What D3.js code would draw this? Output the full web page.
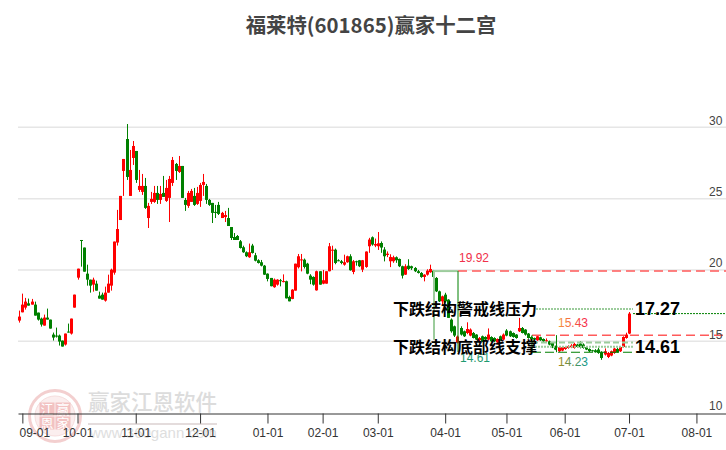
<!DOCTYPE html>
<html>
<head>
<meta charset="utf-8">
<script src="https://cdn.jsdelivr.net/npm/d3@7/dist/d3.min.js"></script>
<style>
    html, body { margin: 0; padding: 0; background: #fff; }
    svg { display: block; }
</style>
</head>
<body>
<div id="chart"></div>
<script>
// daily candles
var opens = [16.45,17.03,17.36,17.66,17.57,17.57,17.01,16.59,16.10,16.66,16.52,15.47,15.40,15.40,15.05,14.77,15.68,15.54,17.36,19.46,22.10,21.57,19.74,19.32,18.97,19.04,18.20,18.27,17.85,18.41,18.90,19.81,21.92,23.50,26.94,29.18,25.19,27.85,28.34,25.61,25.47,25.89,23.64,24.77,24.77,25.40,24.91,25.40,24.84,25.05,26.10,27.43,26.87,27.29,24.91,24.49,24.77,25.19,24.63,24.84,25.96,25.89,24.91,24.70,24.07,24.56,23.64,23.71,23.64,23.01,22.31,22.38,
    22.01,21.59,21.24,20.89,21.71,21.03,20.68,20.54,20.30,19.74,19.44,18.79,18.97,19.28,19.18,19.21,18.11,17.97,18.55,20.19,20.70,20.72,20.44,19.60,19.51,18.57,19.91,19.04,19.04,19.91,21.38,21.42,20.68,20.61,20.37,20.54,20.96,19.86,20.61,20.68,20.02,20.21,21.66,22.29,21.71,21.66,21.89,21.43,21.05,20.61,20.61,20.89,20.77,20.26,19.67,20.30,20.26,20.14,19.91,19.79,19.51,19.67,19.84,19.95,
    19.44,18.50,17.80,18.27,17.92,16.52,16.05,14.90,15.93,15.70,15.58,15.40,15.58,15.47,15.07,15.35,15.30,15.12,15.30,15.23,14.93,15.35,15.12,15.75,15.70,15.58,15.47,15.70,15.93,15.82,15.54,15.30,15.23,15.07,15.28,15.16,15.02,15.00,14.88,14.65,14.30,14.35,14.46,14.53,14.58,14.53,14.77,14.84,14.77,14.58,14.46,14.37,14.37,14.42,14.23,14.07,13.90,14.00,14.18,14.46,14.30,14.60,15.23,15.54];
var highs = [17.15,18.34,18.04,17.99,17.97,17.78,17.01,16.66,16.87,17.29,16.52,15.61,15.96,15.47,15.05,15.54,16.24,16.59,18.27,20.09,22.10,21.57,20.37,19.32,19.46,19.25,18.48,18.41,18.83,19.67,20.09,21.99,24.21,25.19,27.78,30.23,28.41,29.04,28.34,27.01,26.73,26.45,24.70,25.47,25.89,25.89,25.89,26.59,26.31,26.59,27.92,27.50,27.99,27.29,25.05,25.54,25.68,25.75,25.82,26.10,26.73,26.03,24.98,24.70,24.56,24.77,24.07,24.14,24.35,23.01,22.59,22.45,
    22.10,21.70,21.30,21.85,21.83,21.20,20.75,20.70,20.35,19.76,19.44,19.40,19.35,19.37,19.69,19.25,18.20,18.65,20.44,21.12,21.12,20.80,20.50,19.70,19.55,19.95,19.91,20.00,19.91,21.89,21.70,21.50,20.75,20.70,21.07,21.00,21.10,20.70,20.65,20.70,20.70,21.30,22.25,22.35,22.20,22.66,22.00,21.60,21.30,21.10,21.00,20.95,20.80,20.30,20.40,20.75,20.30,20.20,20.00,19.85,19.70,20.05,20.37,20.00,
    19.50,18.55,18.20,18.40,17.95,16.60,16.10,15.40,16.05,15.75,16.33,15.90,15.65,15.50,15.30,15.40,15.35,15.90,15.35,15.28,15.20,15.40,15.55,15.85,15.75,15.62,15.50,16.64,16.00,15.85,15.58,15.35,15.26,15.40,15.32,15.20,15.20,15.05,14.95,14.70,14.65,14.65,14.65,14.72,14.80,14.90,14.82,15.00,14.85,14.65,14.50,14.40,14.45,14.55,14.30,14.50,14.25,14.35,14.55,14.55,14.65,15.35,15.60,17.05];
var lows = [16.31,17.03,17.22,17.50,17.57,16.80,16.45,16.03,16.10,16.52,15.89,15.05,15.26,14.70,14.63,14.70,15.61,15.47,17.36,19.32,20.23,19.88,18.90,18.41,18.48,18.55,17.99,17.92,17.78,18.41,18.55,19.67,21.71,23.50,25.19,26.31,25.19,27.36,26.10,25.47,25.26,24.28,22.94,24.63,24.70,24.63,24.63,25.12,24.77,23.36,25.89,26.31,26.80,25.05,24.14,24.35,24.77,24.49,24.56,24.42,25.19,24.63,24.49,23.29,23.64,23.85,23.64,23.36,23.08,22.10,22.10,22.10,
    21.50,21.20,20.90,20.85,21.15,20.60,20.45,20.25,19.65,19.20,18.85,18.75,18.90,18.85,19.13,18.00,17.80,17.95,18.55,20.10,19.90,20.10,19.70,19.00,18.90,18.55,18.97,19.00,19.04,19.90,20.00,20.40,20.61,20.40,20.30,20.50,19.95,19.70,20.30,20.20,19.85,20.15,21.20,21.70,21.60,21.40,21.20,20.60,20.90,20.20,20.50,20.50,20.20,19.40,19.65,20.00,20.00,19.85,19.75,19.45,19.20,19.60,19.80,19.40,
    18.45,17.75,17.50,17.70,16.64,15.60,15.30,14.85,15.40,15.30,15.50,15.35,15.20,15.10,15.00,14.95,15.05,15.05,14.95,14.95,14.85,15.05,15.05,15.35,15.30,15.25,15.18,15.65,15.55,15.40,15.18,15.12,15.08,15.03,15.03,14.95,14.95,14.72,14.52,14.38,14.25,14.30,14.40,14.48,14.52,14.48,14.55,14.50,14.48,14.38,14.25,14.27,14.20,14.12,13.70,14.00,13.82,13.95,14.12,14.20,14.25,14.55,15.18,15.50];
var closes = [16.73,17.57,17.78,17.50,17.78,16.80,16.52,16.17,16.66,16.52,15.89,15.26,15.33,14.98,14.63,15.54,15.61,16.59,18.27,20.09,22.05,19.88,19.32,18.90,19.32,18.55,17.99,17.92,18.41,19.04,20.02,21.99,22.87,25.19,27.78,26.52,27.01,28.69,26.31,25.89,25.89,24.35,24.49,24.98,25.40,24.91,25.33,25.12,25.75,26.38,27.71,26.94,27.29,25.05,24.56,25.40,25.54,24.56,25.40,25.96,26.17,24.91,24.56,24.00,24.00,23.93,24.00,23.85,23.08,22.24,22.10,22.10,
    21.54,21.24,20.96,21.24,21.19,20.65,20.49,20.30,19.67,19.37,18.86,19.32,19.32,19.23,19.22,18.01,17.80,18.62,20.44,20.96,20.74,20.21,19.74,19.32,18.97,19.91,18.97,19.28,19.91,21.66,21.42,20.49,20.61,20.49,20.54,20.96,19.98,20.61,20.54,20.26,20.68,21.29,22.13,21.78,21.82,21.87,21.57,20.96,21.14,20.91,20.89,20.68,20.26,19.60,20.26,20.07,20.12,19.91,19.79,19.51,19.67,19.95,20.07,19.51,
    18.50,17.80,18.15,17.80,16.64,15.70,15.40,15.33,15.47,15.35,15.86,15.82,15.23,15.12,15.23,15.00,15.12,15.47,15.00,15.00,15.16,15.07,15.47,15.40,15.35,15.30,15.23,15.93,15.58,15.47,15.23,15.16,15.12,15.35,15.07,15.00,15.07,14.77,14.58,14.42,14.58,14.58,14.60,14.65,14.70,14.81,14.60,14.58,14.53,14.42,14.30,14.30,14.23,14.18,13.83,14.30,14.18,14.30,14.49,14.23,14.60,15.30,15.47,16.94];

// month marks sit on trading day positions
var monthLabels = ["09-01","10-01","11-01","12-01","01-01","02-01","03-01","04-01","05-01","06-01","07-01","08-01"];
var monthDays = [1,19,38,59,81,99,117,139,159,178,199,221];
var priceTicks = [10,15,20,25,30];

var w = 726, h = 450;

var svg = d3.select("#chart").append("svg").attr("width", w).attr("height", h);

var x = d3.scaleLinear().domain([-0.42, 230.65]).range([18, 726]);
var y = d3.scaleLinear().domain([10, 30]).range([412.6, 127.3]);

var latin = "'Liberation Sans', Arial, sans-serif";
var cjk = "'Noto Sans CJK SC', sans-serif";

//title
svg.append("text")
    .text("福莱特(601865)赢家十二宫")
    .attr("x", 371)
    .attr("y", 33)
    .attr("text-anchor", "middle")
    .style("font-family", cjk)
    .style("font-weight", "bold")
    .style("font-size", "20.4px")
    .style("fill", "#444");

//grid lines, 10 is covered by the axis
svg.append("g").selectAll("line")
    .data(priceTicks.slice(1))
    .enter().append("line")
    .attr("x1", 18)
    .attr("x2", w)
    .attr("y1", function (d) { return y(d); })
    .attr("y2", function (d) { return y(d); })
    .style("stroke", "#e6e6e6")
    .style("stroke-width", 1.5);

//watermark goes under everything else
var mark = svg.append("g");
mark.append("circle").attr("cx", 55).attr("cy", 416).attr("r", 25.5)
    .style("fill", "none").style("stroke", "#f3cfcf").style("stroke-width", 3);
mark.append("circle").attr("cx", 55).attr("cy", 416).attr("r", 20)
    .style("fill", "#fbeeee").style("stroke", "#f6dddd").style("stroke-width", 1);
[["江", 47, 409], ["赢", 63, 409], ["恩", 47, 423], ["家", 63, 423]].forEach(function (c) {
    mark.append("rect").attr("x", c[1] - 7.5).attr("y", c[2] - 6.5).attr("width", 15).attr("height", 13)
        .style("fill", "#f2c2c2");
    mark.append("text").text(c[0]).attr("x", c[1]).attr("y", c[2] + 4.5)
        .attr("text-anchor", "middle")
        .style("font-family", cjk).style("font-size", "13px").style("fill", "#fff");
});
mark.append("text").text("赢家江恩软件")
    .attr("x", 88).attr("y", 410)
    .style("font-family", cjk).style("font-size", "21.5px").style("font-weight", "500")
    .style("fill", "#dcdcdc");
mark.append("line").attr("x1", 88).attr("x2", 217).attr("y1", 424).attr("y2", 424)
    .style("stroke", "#e4dcdc").style("stroke-width", 2);
mark.append("text").text("www.360gann.com")
    .attr("x", 90).attr("y", 438)
    .style("font-family", latin).style("font-size", "15px").style("fill", "#dedede");

//x axis
var xAxis = d3.axisBottom(x)
    .tickValues(monthDays)
    .tickSize(10)
    .tickSizeOuter(0)
    .tickFormat(function (d, i) { return monthLabels[i]; });

var axisG = svg.append("g")
    .attr("transform", "translate(0,413.5)")
    .call(xAxis);
axisG.select(".domain").style("stroke", "#333").style("stroke-width", 1);
axisG.selectAll(".tick line").style("stroke", "#333");
axisG.selectAll(".tick text")
    .attr("y", 15)
    .style("font-family", latin)
    .style("font-size", "12px")
    .style("fill", "#333")
    .attr("dx", function (d, i) { return i == 0 ? 12 : 0; });

//candles, snapped to whole pixels so the bodies stay solid
var candles = svg.append("g").selectAll("g")
    .data(closes.map(function (c, i) {
        return { i: i, o: opens[i], h: highs[i], l: lows[i], c: c };
    }))
    .enter().append("g")
    .style("fill", function (d) { return d.c >= d.o ? "#ff0000" : "#008000"; })
    .style("stroke", function (d) { return d.c >= d.o ? "#ff0000" : "#008000"; });

candles.append("line")
    .attr("x1", function (d) { return Math.round(x(d.i)) + 0.5; })
    .attr("x2", function (d) { return Math.round(x(d.i)) + 0.5; })
    .attr("y1", function (d) { return y(d.h); })
    .attr("y2", function (d) { return y(d.l); })
    .style("stroke-width", 1);

candles.append("rect")
    .attr("x", function (d) { return Math.round(x(d.i)) - 1; })
    .attr("width", 3)
    .attr("y", function (d) { return y(Math.max(d.o, d.c)); })
    .attr("height", function (d) { return Math.max(1, Math.abs(y(d.o) - y(d.c))); })
    .style("stroke", "none");

//level lines
var RED_DASH = "#ff5a5a", PALE = "#9ccc9c", DARK = "#008000";
function level(v, x1, x2, color, width, dash) {
    svg.append("line")
        .attr("x1", x1).attr("x2", x2)
        .attr("y1", y(v)).attr("y2", y(v))
        .style("stroke", color).style("stroke-width", width)
        .style("stroke-dasharray", dash);
}
function wall(px, v1, v2, color, width) {
    svg.append("line")
        .attr("x1", px).attr("x2", px)
        .attr("y1", y(v1)).attr("y2", y(v2))
        .style("stroke", color).style("stroke-width", width);
}

level(19.92, 458, w, RED_DASH, 1.5, "9,5");
level(15.43, 532, w, RED_DASH, 1.5, "9,5");
level(17.27, 536, 633, PALE, 2, "2,1");
level(16.94, 633, w, DARK, 1, "2,1");
level(14.92, 532, 633, PALE, 2, "6,3");
level(14.61, 532, 633, PALE, 2, "2,1");
level(14.23, 532, 633, DARK, 1.2, "9,4");

//boxes
level(19.92, 433, 458, PALE, 2);
wall(434, 19.92, 15.1, PALE, 2);
wall(458, 19.92, 14.25, DARK, 1);
wall(532, 15.43, 14.23, DARK, 1);
wall(556.5, 15.43, 14.23, DARK, 1);

//price labels
var redOrange = svg.append("linearGradient").attr("id", "redOrange");
redOrange.append("stop").attr("offset", "0%").attr("stop-color", "#f59a3c");
redOrange.append("stop").attr("offset", "100%").attr("stop-color", "#f5224a");
var oliveTeal = svg.append("linearGradient").attr("id", "oliveTeal");
oliveTeal.append("stop").attr("offset", "0%").attr("stop-color", "#a08a20");
oliveTeal.append("stop").attr("offset", "100%").attr("stop-color", "#109a90");

function small(str, px, py, fill) {
    svg.append("text").text(str).attr("x", px).attr("y", py)
        .style("font-family", latin).style("font-size", "12px").style("fill", fill);
}
small("19.92", 459, 262, "#f0304a");
small("15.43", 558, 327, "url(#redOrange)");
small("14.61", 460, 362, "#1f9a70");
small("14.23", 558, 366, "url(#oliveTeal)");

//big callouts
function callout(str, px, py, family, size) {
    svg.append("text").text(str).attr("x", px).attr("y", py)
        .style("font-family", family).style("font-weight", "bold")
        .style("font-size", size).style("fill", "#000");
}
callout("下跌结构警戒线压力", 393, 315, cjk, "16px");
callout("下跌结构底部线支撑", 393, 353, cjk, "16px");
callout("17.27", 635, 315, latin, "18px");
callout("14.61", 635, 353, latin, "18px");

//y tick labels
svg.append("g").selectAll("text")
    .data(priceTicks)
    .enter().append("text")
    .text(function (d) { return d; })
    .attr("x", 709)
    .attr("y", function (d) { return y(d) - 2.5; })
    .style("font-family", latin)
    .style("font-size", "12px")
    .style("fill", "#444");
</script>
</body>
</html>
